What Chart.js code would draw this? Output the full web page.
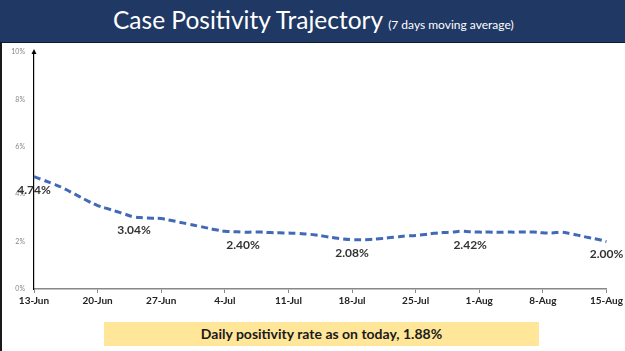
<!DOCTYPE html>
<html>
<head>
<meta charset="utf-8">
<script src="https://cdn.jsdelivr.net/npm/chart.js@4.4.0/dist/chart.umd.min.js"></script>
<style>
  body { margin: 0; width: 625px; height: 351px; background: #fff; position: relative; overflow: hidden; font-family: Lato, "Open Sans", sans-serif; }
  #header { position: absolute; left: 0; top: 0; width: 625px; height: 42px; background: #1f3864; border-bottom: 1.5px solid #0d1a33; }
  #title { position: absolute; left: 113px; top: 5px; color: #fff; font-size: 24.5px; white-space: nowrap; }
  #title span { font-size: 12px; margin-left: 5px; }
  #leftBorder { position: absolute; left: 0; top: 43px; width: 2px; height: 308px; background: #1a1a1a; }
  #chartBox { position: absolute; left: 2px; top: 43px; width: 623px; height: 266px; }
  #note { position: absolute; left: 104px; top: 322px; width: 435px; height: 24px; background: #ffe699; color: #1a1a1a; font-weight: bold; font-size: 14px; line-height: 24px; text-align: center; }
</style>
</head>
<body>
<div id="header"><div id="title">Case Positivity Trajectory<span>(7 days moving average)</span></div></div>
<div id="leftBorder"></div>
<div id="chartBox"><canvas id="positivityChart"></canvas></div>
<div id="note">Daily positivity rate as on today, 1.88%</div>
<script>
// dny od 13-Jun do 15-Aug
const dates = [
  '13-Jun','14-Jun','15-Jun','16-Jun','17-Jun','18-Jun','19-Jun','20-Jun','21-Jun','22-Jun','23-Jun','24-Jun','25-Jun','26-Jun','27-Jun','28-Jun','29-Jun','30-Jun',
  '1-Jul','2-Jul','3-Jul','4-Jul','5-Jul','6-Jul','7-Jul','8-Jul','9-Jul','10-Jul','11-Jul','12-Jul','13-Jul','14-Jul','15-Jul','16-Jul','17-Jul','18-Jul','19-Jul','20-Jul','21-Jul','22-Jul','23-Jul','24-Jul','25-Jul','26-Jul','27-Jul','28-Jul','29-Jul','30-Jul','31-Jul',
  '1-Aug','2-Aug','3-Aug','4-Aug','5-Aug','6-Aug','7-Aug','8-Aug','9-Aug','10-Aug','11-Aug','12-Aug','13-Aug','14-Aug','15-Aug'
];
const positivity = [
  4.74, 4.60, 4.45, 4.30, 4.10, 3.90, 3.70, 3.52, 3.40, 3.28, 3.16, 3.04, 3.01, 2.99, 2.97, 2.90, 2.82, 2.74,
  2.66, 2.58, 2.50, 2.44, 2.42, 2.40, 2.40, 2.40, 2.38, 2.37, 2.36, 2.35, 2.32, 2.28, 2.22, 2.16, 2.11, 2.08, 2.08, 2.09, 2.12, 2.16, 2.20, 2.24, 2.26, 2.30, 2.35, 2.38, 2.40, 2.44, 2.42,
  2.40, 2.40, 2.39, 2.40, 2.40, 2.41, 2.40, 2.37, 2.36, 2.40, 2.34, 2.26, 2.17, 2.10, 2.00
];
const labeledIdx = [0, 11, 23, 35, 48, 63];
const yTicks = [0, 2, 4, 6, 8, 10];

// popisky hodnot pod čarou
const valueLabels = {
  id: 'valueLabels',
  afterDatasetsDraw(chart) {
    const meta = chart.getDatasetMeta(0);
    const ctx = chart.ctx;
    ctx.save();
    ctx.font = 'bold 12px Lato, sans-serif';
    ctx.fillStyle = '#333';
    ctx.textAlign = 'center';
    ctx.textBaseline = 'middle';
    labeledIdx.forEach(i => {
      const p = meta.data[i];
      ctx.fillText(positivity[i].toFixed(2) + '%', p.x, p.y + 13);
    });
    ctx.restore();
  }
};

// šipka na ose y
const axisArrow = {
  id: 'axisArrow',
  afterDraw(chart) {
    const ctx = chart.ctx;
    const x = chart.scales.y.right;
    const top = chart.chartArea.top;
    ctx.save();
    ctx.fillStyle = '#000';
    ctx.beginPath();
    ctx.moveTo(x, top - 3);
    ctx.lineTo(x - 2.5, top + 2);
    ctx.lineTo(x + 2.5, top + 2);
    ctx.closePath();
    ctx.fill();
    ctx.restore();
  }
};

const ctxPos = document.getElementById('positivityChart').getContext('2d');
new Chart(ctxPos, {
  type: 'line',
  data: {
    labels: dates,
    datasets: [{
      data: positivity,
      borderColor: '#4169b8',
      borderWidth: 3,
      borderDash: [7, 4],
      tension: 0.4,
      pointRadius: 0,
      fill: false
    }]
  },
  options: {
    responsive: true,
    maintainAspectRatio: false,
    animation: false,
    layout: { padding: { top: 9, right: 0, bottom: 0, left: 0 } },
    plugins: { legend: { display: false }, tooltip: { enabled: false } },
    scales: {
      x: {
        grid: {
          drawOnChartArea: false,
          tickLength: 4,
          color: c => (c.index % 7 === 0 ? '#888' : 'rgba(0,0,0,0)')
        },
        border: { color: '#888', width: 1.5 },
        ticks: {
          autoSkip: false,
          maxRotation: 0,
          padding: 2,
          color: '#222',
          font: { family: 'Lato, sans-serif', size: 10, weight: 'bold' },
          callback: (v, i) => (i % 7 === 0 ? dates[i] : '')
        }
      },
      y: {
        min: 0,
        max: 10,
        afterFit: s => { s.width = 32; },
        afterBuildTicks: s => { s.ticks = yTicks.map(v => ({ value: v })); },
        grid: { display: false },
        border: { color: '#000', width: 1.2 },
        ticks: {
          color: '#888',
          padding: 1,
          font: { family: 'Lato, sans-serif', size: 7 },
          callback: v => v + '%'
        }
      }
    }
  },
  plugins: [valueLabels, axisArrow]
});
</script>
</body>
</html>
